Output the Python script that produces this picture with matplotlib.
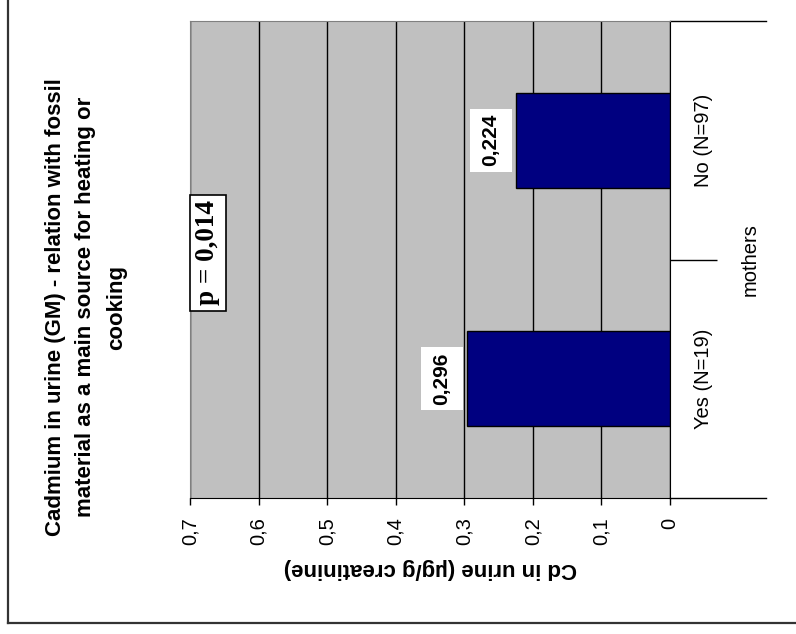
"""Cadmium in urine vs fossil fuel use - rotated bar chart."""

import matplotlib

matplotlib.use("Agg")
import matplotlib.pyplot as plt
from matplotlib.lines import Line2D
from matplotlib.path import Path
from matplotlib.ticker import FixedLocator, FuncFormatter, MultipleLocator

categories = ["Yes (N=19)", "No (N=97)"]
gm_values = [0.296, 0.224]
group_label = "mothers"
p_text = "p = 0,014"
title = "Cadmium in urine (GM) - relation with fossil\nmaterial as a main source for heating or\ncooking"
value_label = "Cd in urine (µg/g creatinine)"

W, H = 796, 634
plt.rcParams["font.family"] = ["Liberation Sans", "DejaVu Sans"]


def label_box(x0, y0, width, height, mutation_size):
    # Excel-like label box: tight along the text, roomy across it
    px, py = 0.25 * mutation_size, 0.55 * mutation_size
    x0, y0 = x0 - px, y0 - py
    x1, y1 = x0 + width + 2 * px, y0 + height + 2 * py
    return Path([(x0, y0), (x1, y0), (x1, y1), (x0, y1), (x0, y0)], closed=True)


fig = plt.figure(figsize=(W / 100, H / 100), dpi=100)
ax = fig.add_axes([190 / W, (H - 498) / H, 480 / W, 477 / H])
ax.set_facecolor("#c0c0c0")

ypos = list(range(len(categories)))
ax.barh(ypos, gm_values, height=0.4, color="#000080", edgecolor="black", linewidth=1, zorder=3)
ax.set_xlim(0.7, 0)
ax.set_ylim(-0.5, len(categories) - 0.5)

# value grid
ax.xaxis.set_major_locator(MultipleLocator(0.1))
ax.xaxis.set_major_formatter(FuncFormatter(lambda v, _: f"{v:g}".replace(".", ",")))
ax.grid(True, axis="x", color="black", linewidth=1, zorder=1)
ax.set_axisbelow(True)
ax.tick_params(axis="x", direction="out", length=5, width=1, color="black",
               labelsize=14.5, labelrotation=90, pad=9)
for lab in ax.get_xticklabels():
    lab.set_va("top")
ax.set_xlabel(value_label, fontsize=16, fontweight="bold", rotation=180, labelpad=9)

# category axis on the right
ax.yaxis.tick_right()
ax.set_yticks(ypos)
ax.set_yticklabels(categories, rotation=90, va="center", ha="left", fontsize=14.5)
ax.tick_params(axis="y", which="major", length=0, pad=17)
ax.yaxis.set_minor_locator(FixedLocator([0.5]))
ax.tick_params(axis="y", which="minor", length=34, width=1, color="black", direction="out")
ax.text(1.168, 0.5, group_label, transform=ax.transAxes, rotation=90,
        ha="center", va="center", fontsize=14.5)

for side in ("left", "top"):
    ax.spines[side].set_color("#808080")
ax.spines["bottom"].set_color("black")
ax.spines["right"].set_color("black")
for yy in (0, 1):
    ax.add_line(Line2D([1, 1.2], [yy, yy], transform=ax.transAxes, color="black",
                       linewidth=1, clip_on=False))

# data labels
for y, v in zip(ypos, gm_values):
    ax.annotate(f"{v:.3f}".replace(".", ","), (v, y), xytext=(-11.5, 0), textcoords="offset points",
                rotation=90, ha="right", va="center", fontsize=15, fontweight="bold",
                bbox=dict(boxstyle=label_box, facecolor="white", edgecolor="none"),
                zorder=5)

ax.text(0.0375, 0.514, p_text, transform=ax.transAxes, rotation=90, ha="center", va="center",
        fontsize=19.5, fontweight="bold", family=["Liberation Serif", "DejaVu Serif"],
        bbox=dict(boxstyle="square,pad=0.2", facecolor="white", edgecolor="black", linewidth=1.2),
        clip_on=False, zorder=6)

fig.text(86 / W, 1 - 307 / H, title, rotation=90, ha="center", va="center",
         multialignment="center", fontsize=16, fontweight="bold", linespacing=1.6)

# outer frame
fig.add_artist(Line2D([8 / W, 8 / W], [11 / H, 1], transform=fig.transFigure,
                      color="#333333", linewidth=1.6))
fig.add_artist(Line2D([8 / W, 1], [11 / H, 11 / H], transform=fig.transFigure,
                      color="#333333", linewidth=1.6))

fig.savefig("out.png", dpi=100)
